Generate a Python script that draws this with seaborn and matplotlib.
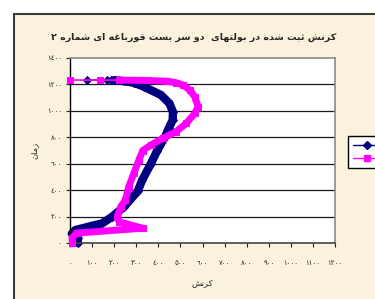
import numpy as np
import pandas as pd
import matplotlib
matplotlib.use('Agg')
import matplotlib.pyplot as plt
import seaborn as sns
from matplotlib.lines import Line2D
from matplotlib.patches import Rectangle

title = 'کرنش ثبت شده در بولتهای  دو سر بست قورباغه ای شماره ۲'
xlabel = 'کرنش'
ylabel = 'زمان'

# series 1 (navy); the last points are the sparse ones on the top line
time_1 = [0, 40, 70, 98, 124, 149, 200, 275, 393, 477, 596, 700, 805, 868, 931,
          994, 1057, 1120, 1183, 1212, 1225, 1232, 1232, 1233, 1233]
strain_1 = [35, 35, 8, 24, 85, 146, 192, 245, 307, 327, 365, 395, 431, 447, 465,
            466, 450, 412, 335, 290, 245, 200, 187, 169, 78]
n_dense_1 = 22

# series 2 (magenta)
time_2 = [0, 40, 75, 112, 160, 200, 275, 325, 426, 527, 628, 700, 742, 792, 843,
          906, 981, 1032, 1107, 1158, 1196, 1213, 1224, 1230, 1233, 1233, 1233]
strain_2 = [10, 10, 30, 329, 222, 215, 230, 251, 266, 289, 312, 330, 367, 420, 481,
            527, 565, 580, 565, 542, 511, 480, 440, 350, 224, 137, 0]
n_dense_2 = 25

xticks = list(range(0, 1201, 100))
yticks = list(range(0, 1401, 200))

# arabic contextual forms: (isolated, final, initial, medial); 2 entries = joins right only
FORMS = {
    'ا': 'ﺍﺎ', 'ب': 'ﺏﺐﺑﺒ', 'ت': 'ﺕﺖﺗﺘ', 'ث': 'ﺙﺚﺛﺜ', 'د': 'ﺩﺪ', 'ر': 'ﺭﺮ',
    'ز': 'ﺯﺰ', 'س': 'ﺱﺲﺳﺴ', 'ش': 'ﺵﺶﺷﺸ', 'غ': 'ﻍﻎﻏﻐ', 'ق': 'ﻕﻖﻗﻘ', 'ل': 'ﻝﻞﻟﻠ',
    'م': 'ﻡﻢﻣﻤ', 'ن': 'ﻥﻦﻧﻨ', 'ه': 'ﻩﻪﻫﻬ', 'و': 'ﻭﻮ', 'ک': 'ﮎﮏﮐﮑ', 'ی': 'ﯼﯽﯾﯿ',
}


def shape(text):
    out = []
    for i, ch in enumerate(text):
        if ch not in FORMS:
            out.append(ch)
            continue
        prev = text[i - 1] if i > 0 else ''
        nxt = text[i + 1] if i + 1 < len(text) else ''
        p = prev in FORMS and len(FORMS[prev]) == 4
        n = len(FORMS[ch]) == 4 and nxt in FORMS
        f = FORMS[ch]
        if p and n:
            out.append(f[3])
        elif p:
            out.append(f[1])
        elif n:
            out.append(f[2])
        else:
            out.append(f[0])
    return ''.join(out)[::-1]


def ar_digits(v):
    return str(v).translate(str.maketrans('0123456789', '٠١٢٣٤٥٦٧٨٩'))


sns.set_style('white')
plt.rcParams['font.family'] = ['DejaVu Sans']

df1 = pd.DataFrame({'strain': strain_1, 'time': time_1})
df2 = pd.DataFrame({'strain': strain_2, 'time': time_2})

fig = plt.figure(figsize=(3.75, 2.99), dpi=100, facecolor='white')
fig.patches.append(Rectangle((14 / 375, 0), 1, 1 - 14 / 299, transform=fig.transFigure,
                             facecolor='#FBF2DE', edgecolor='none', zorder=-2))
fig.lines.append(Line2D([14 / 375, 14 / 375], [0, 1 - 14 / 299], transform=fig.transFigure,
                        color='#3a3a3a', lw=1.5, zorder=-1))
fig.lines.append(Line2D([14 / 375, 1], [1 - 14 / 299, 1 - 14 / 299], transform=fig.transFigure,
                        color='#3a3a3a', lw=1.5, zorder=-1))

ax = fig.add_axes([70 / 375, 1 - 243 / 299, 265 / 375, 185 / 299])
ax.set_facecolor('white')

# thin line with markers for every point, thick band where the markers are dense
for df, n, col, mk, ms, lw, z in [(df1, n_dense_1, '#000080', 'D', 4.2, 6, 2),
                                  (df2, n_dense_2, '#FF00FF', 's', 4, 5, 3)]:
    sns.lineplot(data=df, x='strain', y='time', sort=False, estimator=None, ax=ax,
                 color=col, lw=1.2, marker=mk, markersize=ms, markeredgecolor=col,
                 zorder=z, clip_on=False)
    sns.lineplot(data=df.iloc[:n], x='strain', y='time', sort=False, estimator=None, ax=ax,
                 color=col, lw=lw, solid_joinstyle='round', solid_capstyle='round',
                 zorder=z, clip_on=False)

ax.set_xlim(0, 1200)
ax.set_ylim(0, 1400)
ax.set_xticks(xticks)
ax.set_yticks(yticks)
ax.set_xticklabels([ar_digits(v) for v in xticks], fontsize=5)
ax.set_yticklabels([ar_digits(v) for v in yticks], fontsize=5)
ax.tick_params(axis='both', direction='out', length=3, width=0.8,
               bottom=True, left=True, colors='#222222')
ax.tick_params(axis='x', pad=9)
ax.tick_params(axis='y', pad=3)
for y in yticks[1:-1]:
    ax.axhline(y, color='#1a1a1a', lw=0.9, zorder=1)

ax.spines['left'].set_color('black')
ax.spines['left'].set_linewidth(1.0)
ax.spines['bottom'].set_color('#444444')
ax.spines['bottom'].set_linewidth(1.2)
ax.spines['top'].set_color('#8a8a8a')
ax.spines['top'].set_linewidth(1.2)
ax.spines['right'].set_color('#8a8a8a')
ax.spines['right'].set_linewidth(1.2)

ax.set_xlabel(shape(xlabel), fontsize=6, labelpad=9)
ax.set_ylabel(shape(ylabel), fontsize=6, labelpad=6)
fig.text(194 / 375, 1 - 37 / 299, shape(title), fontsize=6.8, fontweight='bold',
         ha='center', va='center')

handles = [Line2D([], [], color='#000080', lw=1, marker='D', markersize=4),
           Line2D([], [], color='#FF00FF', lw=1, marker='s', markersize=4)]
ax.legend(handles, [' ', ' '], loc='upper left', bbox_to_anchor=(344 / 375, 1 - 132 / 299),
          bbox_transform=fig.transFigure, fontsize=6, handlelength=3.2, handletextpad=1.5,
          borderpad=0.6, labelspacing=0.5, frameon=True, fancybox=False, edgecolor='black',
          facecolor='white', framealpha=1)

fig.savefig('out.png', dpi=100, facecolor=fig.get_facecolor())
plt.close()
